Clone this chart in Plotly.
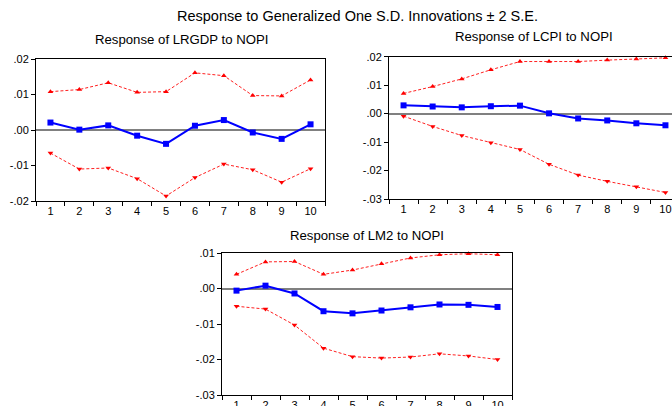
import plotly.graph_objects as go

periods = ["1", "2", "3", "4", "5", "6", "7", "8", "9", "10"]

lrgdp_resp = [0.0021, 0.0001, 0.0013, -0.0016, -0.0039, 0.0012, 0.0028, -0.0007, -0.0025, 0.0016]
lrgdp_upper = [0.0108, 0.0114, 0.0133, 0.0106, 0.0108, 0.0161, 0.0153, 0.0097, 0.0096, 0.0141]
lrgdp_lower = [-0.0065, -0.0110, -0.0107, -0.0137, -0.0186, -0.0134, -0.0096, -0.0112, -0.0147, -0.0109]

lcpi_resp = [0.0029, 0.0025, 0.0022, 0.0026, 0.0028, 0.0001, -0.0017, -0.0024, -0.0034, -0.0041]
lcpi_upper = [0.0071, 0.0095, 0.0122, 0.0154, 0.0183, 0.0183, 0.0183, 0.0188, 0.0192, 0.0196]
lcpi_lower = [-0.0009, -0.0045, -0.0077, -0.0102, -0.0126, -0.0178, -0.0216, -0.0238, -0.0257, -0.0277]

lm2_resp = [-0.0006, 0.0008, -0.0014, -0.0064, -0.0070, -0.0062, -0.0053, -0.0045, -0.0046, -0.0052]
lm2_upper = [0.0040, 0.0075, 0.0076, 0.0040, 0.0052, 0.0070, 0.0086, 0.0095, 0.0098, 0.0095]
lm2_lower = [-0.0050, -0.0058, -0.0103, -0.0168, -0.0192, -0.0196, -0.0193, -0.0184, -0.0190, -0.0200]

yt1_vals = [0.02, 0.01, 0.0, -0.01, -0.02]
yt1_text = [".02", ".01", ".00", "-.01", "-.02"]
yt2_vals = [0.02, 0.01, 0.0, -0.01, -0.02, -0.03]
yt2_text = [".02", ".01", ".00", "-.01", "-.02", "-.03"]
yt3_vals = [0.01, 0.0, -0.01, -0.02, -0.03]
yt3_text = [".01", ".00", "-.01", "-.02", "-.03"]

main_title = "Response to Generalized One S.D. Innovations ± 2 S.E."
sub_titles = ["Response of LRGDP to NOPI", "Response of LCPI to NOPI", "Response of LM2 to NOPI"]

W, H = 672, 406
FONT = "Liberation Sans, Arial, sans-serif"

fig = go.Figure()

panels = [
    dict(resp=lrgdp_resp, up=lrgdp_upper, lo=lrgdp_lower, xa="x", ya="y"),
    dict(resp=lcpi_resp, up=lcpi_upper, lo=lcpi_lower, xa="x2", ya="y2"),
    dict(resp=lm2_resp, up=lm2_upper, lo=lm2_lower, xa="x3", ya="y3"),
]

for p in panels:
    fig.add_trace(go.Scatter(x=periods, y=p["up"], xaxis=p["xa"], yaxis=p["ya"], mode="lines+markers",
                             line=dict(color="#ff2020", width=1, dash="3px,2px"),
                             marker=dict(symbol="triangle-up", size=5, color="#ff0000"),
                             showlegend=False, cliponaxis=False))
    fig.add_trace(go.Scatter(x=periods, y=p["lo"], xaxis=p["xa"], yaxis=p["ya"], mode="lines+markers",
                             line=dict(color="#ff2020", width=1, dash="3px,2px"),
                             marker=dict(symbol="triangle-down", size=5, color="#ff0000"),
                             showlegend=False, cliponaxis=False))
    fig.add_trace(go.Scatter(x=periods, y=p["resp"], xaxis=p["xa"], yaxis=p["ya"], mode="lines+markers",
                             line=dict(color="#0000ff", width=2),
                             marker=dict(symbol="square", size=6, color="#0000ff"),
                             showlegend=False, cliponaxis=False))

TICKFONT = dict(family=FONT, size=11, color="black")

def xaxis(domain, rng, anchor, mirror=True):
    return dict(domain=domain, anchor=anchor, type="category", range=rng,
                tickson="boundaries", ticks="outside", ticklen=4, tickcolor="black",
                showline=True, linecolor="black", linewidth=1, mirror=mirror,
                showgrid=False, zeroline=False, automargin=False,
                tickfont=TICKFONT)

def yaxis(domain, rng, anchor, tv, tt, mirror=True):
    return dict(domain=domain, anchor=anchor, range=rng, tickvals=tv, ticktext=tt,
                ticks="outside", ticklen=4, tickcolor="black",
                showline=True, linecolor="black", linewidth=1, mirror=mirror,
                showgrid=False, zeroline=True, zerolinecolor="#808080", zerolinewidth=2,
                automargin=False, tickfont=TICKFONT)

fig.update_layout(
    width=W, height=H,
    margin=dict(l=0, r=0, t=0, b=0, autoexpand=False),
    paper_bgcolor="white", plot_bgcolor="white",
    hovermode=False,
    xaxis=xaxis([36 / W, 325 / W], [-0.5, 9.5], "y"),
    yaxis=yaxis([1 - 201 / H, 1 - 59 / H], [-0.02, 0.02], "x", yt1_vals, yt1_text),
    xaxis2=xaxis([389 / W, 1.0], [-0.5, 9.225], "y2"),
    yaxis2=yaxis([1 - 199 / H, 1 - 56.7 / H], [-0.03, 0.02], "x2", yt2_vals, yt2_text, mirror=False),
    xaxis3=xaxis([222 / W, 512 / W], [-0.5, 9.5], "y3"),
    yaxis3=yaxis([1 - 395 / H, 1 - 253 / H], [-0.03, 0.01], "x3", yt3_vals, yt3_text),
)

ann = [
    (main_title, 357, 16, 14.5),
    (sub_titles[0], 181, 39, 13.2),
    (sub_titles[1], 534, 37, 13.2),
    (sub_titles[2], 367, 235, 13.2),
]
for text, x, y, s in ann:
    fig.add_annotation(text=text, x=x / W, y=1 - y / H, xref="paper", yref="paper",
                       xanchor="center", yanchor="middle", showarrow=False,
                       font=dict(family=FONT, size=s, color="black"))

fig.write_html("out.html",
               config={"displayModeBar": False, "staticPlot": True},
               post_script="document.body.style.margin='0';document.body.style.overflow='hidden';")
